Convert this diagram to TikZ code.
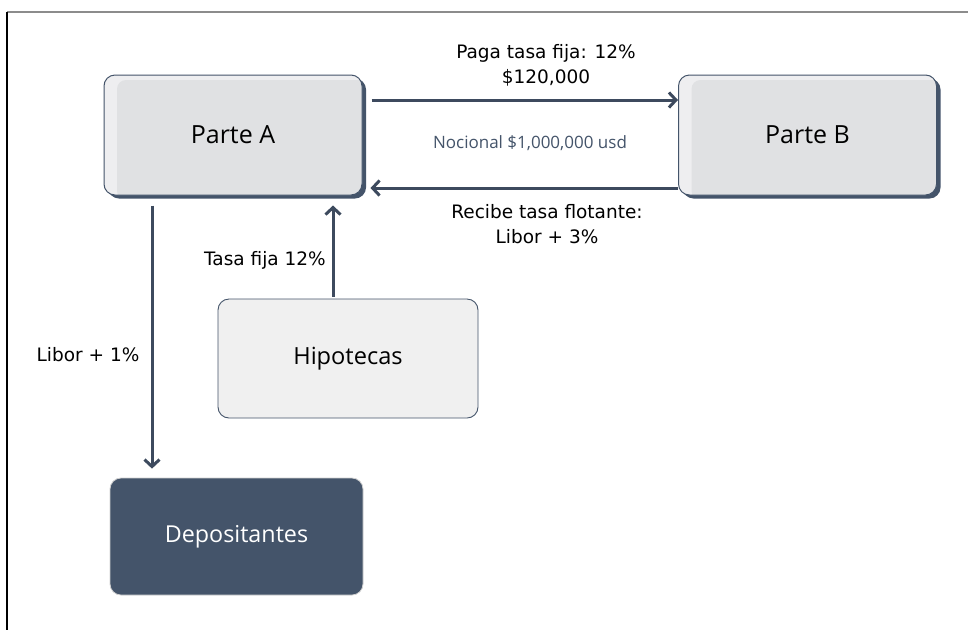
\documentclass[tikz,border=0pt]{standalone}
\usepackage{fontspec}
\setmainfont{DejaVu Sans}
\newfontfamily\boxfont{Open Sans}
\usetikzlibrary{calc,arrows.meta,shadows}
\definecolor{slate}{HTML}{44546A}
\definecolor{arrowc}{HTML}{3D4A5E}
\definecolor{bandfill}{HTML}{EEEEF0}
\definecolor{corefill}{HTML}{E0E1E3}
\definecolor{paleFill}{HTML}{F0F0F0}
\begin{document}
\begin{tikzpicture}[x=1pt,y=-1pt,
  partybox/.style={draw=slate, line width=1pt, fill=bandfill, rounded corners=11pt,
    minimum width=258pt, minimum height=120pt, inner sep=0pt,
    font=\boxfont\fontsize{25}{30}\selectfont,
    drop shadow={shadow xshift=4pt, shadow yshift=-3.5pt, fill=slate, opacity=1},
    path picture={\fill[corefill, rounded corners=9pt]
      ($(path picture bounding box.north west)+(13pt,-5pt)$) rectangle
      ($(path picture bounding box.south east)+(5pt,-5pt)$);}},
  plainbox/.style={draw=slate, line width=0.9pt, fill=paleFill, rounded corners=11pt,
    minimum width=260pt, minimum height=119pt, inner sep=0pt,
    font=\boxfont\fontsize{23.6}{28}\selectfont},
  darkbox/.style={draw=black!18, line width=0.8pt, fill=slate, rounded corners=11pt,
    minimum width=253pt, minimum height=117pt, inner sep=0pt, text=white,
    font=\boxfont\fontsize{23.3}{28}\selectfont},
  flow/.style={draw=arrowc, line width=3pt,
    -{Straight Barb[length=7pt, width=15pt, line width=3pt]}},
  lbl/.style={font=\fontsize{18.5}{25}\selectfont, align=center, inner sep=0pt},
  notional/.style={font=\boxfont\fontsize{17}{20}\selectfont, text=slate, inner sep=0pt}
]
\useasboundingbox (0,0) rectangle (968,630);
\fill[white] (0,0) rectangle (968,630);

% frame
\draw[black!45, line width=1.2pt] (7,12) -- (968,12);
\draw[black, line width=2pt] (7,12) -- (7,630);

% boxes
\node[partybox] (A) at (233,135) {Parte A};
\node[partybox] (B) at (807.5,135) {Parte B};
\node[plainbox] (H) at (348,358.5) {Hipotecas};
\node[darkbox]  (D) at (236.5,536.5) {Depositantes};

% flows
\draw[flow] ($(A.east)+(9,-35)$) -- ($(B.west)+(0,-35)$);
\draw[flow] ($(B.west)+(0,53)$) -- ($(A.east)+(8,53)$);
\draw[flow] ($(H.north)+(-15,-2)$) -- ($(A.south)+(100,10)$);
\draw[flow] ($(A.south)+(-81,10)$) -- ($(D.north)+(-84.5,-9)$);

% labels
\node[lbl] (pay) at (546,65) {Paga tasa fija: 12\%\\\$120,000};
\node[lbl] (rec) at (547,224) {Recibe tasa flotante:\\Libor + 3\%};
\node[notional] (not) at (530,143) {Nocional \$1,000,000 usd};
\node[lbl, anchor=east] (fix) at (326,260) {Tasa fija 12\%};
\node[lbl] (lib) at (88,355) {Libor + 1\%};
\end{tikzpicture}
\end{document}
